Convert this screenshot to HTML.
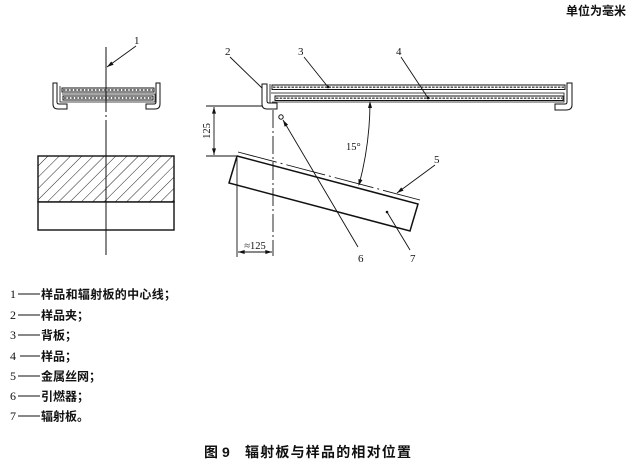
<!DOCTYPE html>
<html>
<head>
<meta charset="utf-8">
<style>
html,body{margin:0;padding:0;background:#fff;}
svg{display:block;}
.num{font-family:"Liberation Serif",serif;font-size:11px;fill:#111;}
.leg{font-family:"Liberation Sans","Noto Sans CJK SC",sans-serif;font-size:12px;fill:#111;font-weight:bold;}
.title{font-family:"Liberation Sans","Noto Sans CJK SC",sans-serif;font-size:14px;fill:#111;font-weight:bold;}
</style>
</head>
<body>
<svg width="631" height="464" viewBox="0 0 631 464" xmlns="http://www.w3.org/2000/svg">
<defs>
  <marker id="ar" viewBox="0 0 10 6" refX="10" refY="3" markerWidth="7" markerHeight="4" orient="auto" markerUnits="userSpaceOnUse">
    <path d="M0,0 L10,3 L0,6 Z" fill="#111"/>
  </marker>
  <pattern id="hatch" width="8" height="8" patternUnits="userSpaceOnUse" patternTransform="rotate(45)">
    <line x1="0" y1="0" x2="0" y2="8" stroke="#222" stroke-width="1"/>
  </pattern>
</defs>

<!-- top right unit -->
<text x="566" y="15" class="leg">单位为毫米</text>

<!-- ================= LEFT VIEW ================= -->
<line x1="106" y1="47" x2="106" y2="112" stroke="#111" stroke-width="1"/>
<line x1="106" y1="115" x2="106" y2="117" stroke="#111" stroke-width="1"/>
<line x1="106" y1="120" x2="106" y2="255" stroke="#111" stroke-width="1"/>
<text x="134" y="44" class="num">1</text>
<line x1="136" y1="46" x2="107" y2="67" stroke="#111" stroke-width="0.9" marker-end="url(#ar)"/>

<path d="M53,83 L57,83 L57,102 Q57,104 59,104 L67,104 L67,109 L58,109 Q53,109 53,104 Z" fill="#fff" stroke="#111" stroke-width="1"/>
<path d="M160,83 L156,83 L156,102 Q156,104 154,104 L146,104 L146,109 L155,109 Q160,109 160,104 Z" fill="#fff" stroke="#111" stroke-width="1"/>
<rect x="62" y="88" width="92" height="4" fill="#fff" stroke="#111" stroke-width="1"/>
<line x1="63" y1="90" x2="153" y2="90" stroke="#444" stroke-width="1.4" stroke-dasharray="2.5 1.2"/>
<rect x="63" y="96" width="90" height="4" fill="#fff" stroke="#111" stroke-width="1"/>
<line x1="64" y1="98" x2="152" y2="98" stroke="#444" stroke-width="1.4" stroke-dasharray="2.5 1.2"/>
<polyline points="60,86 60,102 155,102 155,94 62,94" fill="none" stroke="#111" stroke-width="0.8"/>
<line x1="106" y1="85" x2="106" y2="112" stroke="#111" stroke-width="1"/>

<rect x="38" y="156" width="136" height="46" fill="url(#hatch)" stroke="#111" stroke-width="1.4"/>
<rect x="38" y="202" width="136" height="28" fill="#fff" stroke="#111" stroke-width="1.4"/>
<line x1="106" y1="150" x2="106" y2="255" stroke="#111" stroke-width="1"/>

<!-- ================= RIGHT VIEW ================= -->
<text x="225" y="55" class="num">2</text>
<text x="298" y="55" class="num">3</text>
<text x="396" y="55" class="num">4</text>
<line x1="230" y1="57" x2="262" y2="88" stroke="#111" stroke-width="0.9"/>

<path d="M262,84 L267,84 L267,101 Q267,103 269,103 L277,103 L277,109 L267,109 Q262,109 262,104 Z" fill="#fff" stroke="#111" stroke-width="1"/>
<path d="M572,83 L567,83 L567,102 Q567,104 565,104 L555,104 L555,110 L566,110 Q572,110 572,105 Z" fill="#fff" stroke="#111" stroke-width="1"/>
<rect x="272" y="85" width="293" height="4.5" fill="#fff" stroke="#111" stroke-width="1"/>
<line x1="273" y1="87.2" x2="564" y2="87.2" stroke="#444" stroke-width="1.4" stroke-dasharray="2.5 1.2"/>
<rect x="275" y="96" width="288" height="4.5" fill="#fff" stroke="#111" stroke-width="1"/>
<line x1="276" y1="98.2" x2="562" y2="98.2" stroke="#444" stroke-width="1.4" stroke-dasharray="2.5 1.2"/>
<polyline points="270,84 270,103 277,103" fill="none" stroke="#111" stroke-width="0.8"/>
<polyline points="271,93 564,93 564,102 272,102" fill="none" stroke="#111" stroke-width="0.8"/>

<line x1="304" y1="57" x2="328" y2="87" stroke="#111" stroke-width="0.9"/>
<circle cx="328" cy="87" r="1.3" fill="#111"/>
<line x1="401" y1="57" x2="428" y2="98" stroke="#111" stroke-width="0.9"/>
<circle cx="428" cy="98" r="1.3" fill="#111"/>

<!-- dimension 125 vertical -->
<line x1="206" y1="106" x2="262" y2="106" stroke="#111" stroke-width="0.9"/>
<line x1="206" y1="156" x2="236" y2="156" stroke="#111" stroke-width="0.9"/>
<line x1="214" y1="131" x2="214" y2="107" stroke="#111" stroke-width="0.9" marker-end="url(#ar)"/>
<line x1="214" y1="131" x2="214" y2="155" stroke="#111" stroke-width="0.9" marker-end="url(#ar)"/>
<text x="0" y="0" class="num" transform="translate(210,131) rotate(-90)" text-anchor="middle" style="font-size:10.5px">125</text>

<!-- radiant panel -->
<polygon points="237,156 418,204 410,231 229,183" fill="#fff" stroke="#111" stroke-width="1.5"/>
<line x1="238" y1="152" x2="420" y2="200" stroke="#111" stroke-width="0.9" stroke-dasharray="40 4 2 4"/>

<!-- right centerline -->
<line x1="273" y1="110" x2="273" y2="256" stroke="#111" stroke-width="0.9" stroke-dasharray="18 3 2 3"/>

<!-- igniter + leader 6 -->
<circle cx="281" cy="117" r="2.2" fill="#fff" stroke="#111" stroke-width="1"/>
<line x1="358" y1="247" x2="283" y2="120" stroke="#111" stroke-width="0.9" marker-end="url(#ar)"/>
<text x="358" y="262" class="num">6</text>

<!-- leader 5 -->
<text x="434" y="163" class="num">5</text>
<line x1="435" y1="165" x2="397" y2="193" stroke="#111" stroke-width="0.9" marker-end="url(#ar)"/>
<!-- leader 7 -->
<text x="410" y="262" class="num">7</text>
<line x1="410" y1="250" x2="387" y2="212" stroke="#111" stroke-width="0.9"/>
<circle cx="387" cy="212" r="1.3" fill="#111"/>

<!-- 15 deg arc -->
<path d="M370,103 A325,325 0 0 1 359,185" fill="none" stroke="#111" stroke-width="0.9"/>
<path d="M370,101 L368,108 L372,108 Z" fill="#111"/>
<path d="M358.5,186 L358.5,179 L362.5,180 Z" fill="#111"/>
<text x="346" y="150" class="num" style="font-size:10.5px">15°</text>

<!-- dimension ≈125 -->
<line x1="237" y1="158" x2="237" y2="257" stroke="#111" stroke-width="0.9"/>
<line x1="255" y1="252" x2="238" y2="252" stroke="#111" stroke-width="0.9" marker-end="url(#ar)"/>
<line x1="255" y1="252" x2="272" y2="252" stroke="#111" stroke-width="0.9" marker-end="url(#ar)"/>
<text x="255" y="249" class="num" text-anchor="middle" style="font-size:10.5px">≈125</text>

<!-- ================= LEGEND ================= -->
<g>
  <text x="10" y="298" class="num" style="font-size:12px">1</text>
  <line x1="18" y1="294" x2="40" y2="294" stroke="#111" stroke-width="1"/>
  <text x="41" y="298.5" class="leg" style="letter-spacing:0.3px">样品和辐射板的中心线；</text>

  <text x="10" y="319" class="num" style="font-size:12px">2</text>
  <line x1="18" y1="315" x2="40" y2="315" stroke="#111" stroke-width="1"/>
  <text x="41" y="319.5" class="leg">样品夹；</text>

  <text x="10" y="339" class="num" style="font-size:12px">3</text>
  <line x1="18" y1="335" x2="40" y2="335" stroke="#111" stroke-width="1"/>
  <text x="41" y="339.5" class="leg">背板；</text>

  <text x="10" y="360" class="num" style="font-size:12px">4</text>
  <line x1="20" y1="356" x2="40" y2="356" stroke="#111" stroke-width="1"/>
  <text x="41" y="360.5" class="leg">样品；</text>

  <text x="10" y="380" class="num" style="font-size:12px">5</text>
  <line x1="18" y1="376" x2="40" y2="376" stroke="#111" stroke-width="1"/>
  <text x="41" y="380.5" class="leg">金属丝网；</text>

  <text x="10" y="400" class="num" style="font-size:12px">6</text>
  <line x1="18" y1="396" x2="40" y2="396" stroke="#111" stroke-width="1"/>
  <text x="41" y="400.5" class="leg">引燃器；</text>

  <text x="10" y="420" class="num" style="font-size:12px">7</text>
  <line x1="18" y1="416" x2="40" y2="416" stroke="#111" stroke-width="1"/>
  <text x="41" y="420.5" class="leg">辐射板。</text>
</g>

<!-- title -->
<text x="204" y="457" class="title">图</text>
<text x="222" y="457" class="title" style="font-family:'Liberation Sans',sans-serif">9</text>
<text x="245" y="457" class="title" style="letter-spacing:1.2px">辐射板与样品的相对位置</text>
</svg>
</body>
</html>
